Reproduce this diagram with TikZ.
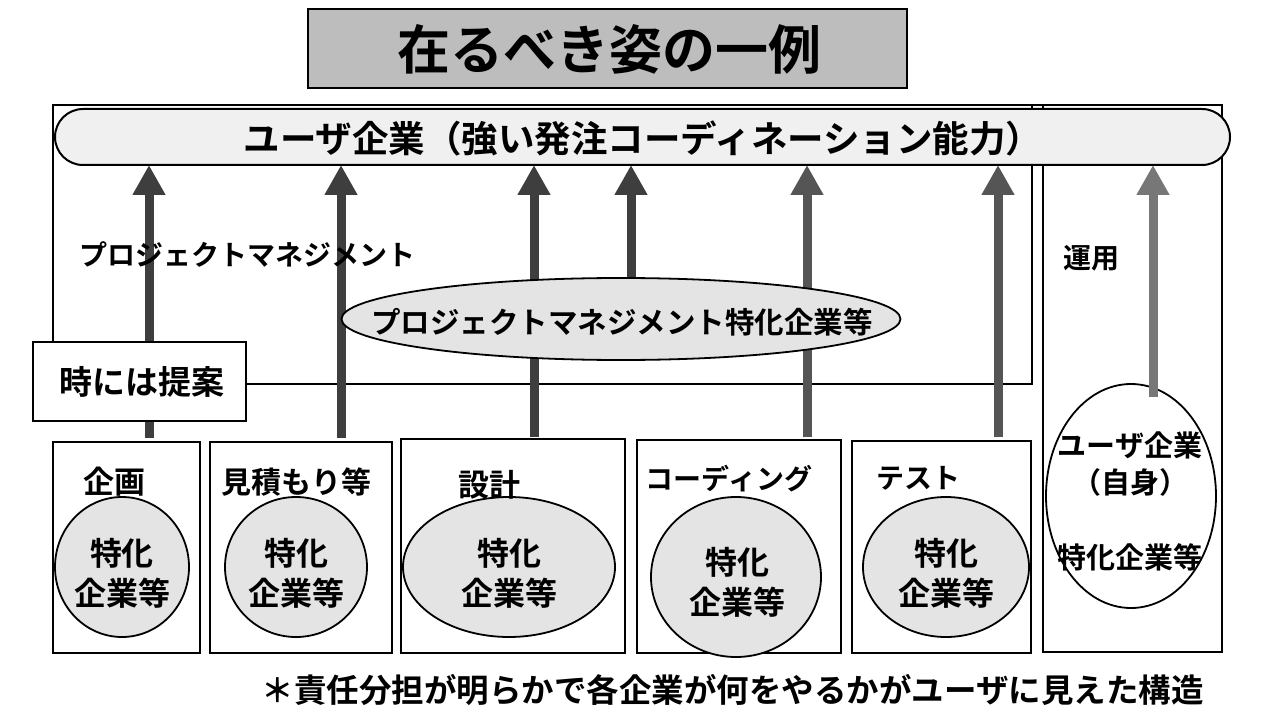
\documentclass[tikz,border=0pt]{standalone}
\usepackage{fontspec}
\setmainfont{Noto Sans CJK JP Bold}
\usetikzlibrary{arrows.meta,shapes.geometric}
\definecolor{titlegray}{HTML}{BDBDBD}
\definecolor{bargray}{HTML}{F0F0F0}
\definecolor{ellgray}{HTML}{E4E4E4}
\definecolor{arrdark}{HTML}{3E3E3E}
\definecolor{arrmid}{HTML}{555555}
\definecolor{arrlight}{HTML}{777777}
\newcommand{\fs}[1]{\fontsize{#1}{#1}\selectfont}
\begin{document}
\begin{tikzpicture}[x=1pt,y=-1pt,
  frame/.style={draw, line width=2pt, inner sep=0pt, outer sep=0pt, anchor=north west},
  stagebox/.style={frame, fill=white},
  oval/.style={ellipse, draw, line width=1.8pt, inner sep=0pt, outer sep=0pt},
  goval/.style={oval, fill=ellgray},
  upar/.style={line width=9pt, -{Triangle[length=30pt,width=31pt]}},
  txt/.style={inner sep=0pt, align=center},
]
\useasboundingbox[fill=white] (0,0) rectangle (1280,722);

% title
\node[frame, line width=2.5pt, fill=titlegray, minimum width=599pt, minimum height=79pt] (title) at (308,9) {};
\node[txt, font=\fs{53}] (titletxt) at (609,49) {在るべき姿の一例};

% frames
\node[frame, minimum width=979pt, minimum height=279pt] (pmarea) at (53,105) {};
\node[frame, minimum width=179pt, minimum height=547pt] (opsbox) at (1043,105) {};
\draw[line width=2pt] (pmarea.north east) -- (opsbox.north west);

% top bar
\node[frame, fill=bargray, rounded corners=28pt, minimum width=1175pt, minimum height=56pt] (bar) at (55,109) {};
\node[txt, font=\fs{36.5}] (bartxt) at (643,138) {ユーザ企業（強い発注コーディネーション能力）};

% stage boxes
\node[stagebox, minimum width=147pt, minimum height=211pt] (b1) at (53,442) {};
\node[stagebox, minimum width=182pt, minimum height=211pt] (b2) at (210,442) {};
\node[stagebox, minimum width=224pt, minimum height=214pt] (b3) at (401,439) {};
\node[stagebox, minimum width=204pt, minimum height=213pt] (b4) at (637,440) {};
\node[stagebox, minimum width=179pt, minimum height=212pt] (b5) at (852,441) {};

% arrow x positions
\coordinate (a1) at (149,0);
\coordinate (a2) at (341,0);
\coordinate (a3) at (534,0);
\coordinate (a4) at (631,0);
\coordinate (a5) at (807,0);
\coordinate (a6) at (998,0);
\coordinate (a7) at (1153,0);

% user-own ellipse (no fill)
\node[oval, minimum width=170pt, minimum height=224pt] (re) at (1131,496) {};
\coordinate (a7s) at ([yshift=-13pt]re.north);

% PM ellipse position (for arrow 4)
\coordinate (pmc) at (621,319);

% arrows
\draw[upar, arrdark] ([yshift=4pt]b1.north -| a1) -- (bar.south -| a1);
\draw[upar, arrdark] ([yshift=4pt]b2.north -| a2) -- (bar.south -| a2);
\draw[upar, arrdark] ([yshift=2pt]b3.north -| a3) -- (bar.south -| a3);
\draw[upar, arrdark] (pmc -| a4) -- (bar.south -| a4);
\draw[upar, arrmid] ([yshift=3pt]b4.north -| a5) -- (bar.south -| a5);
\draw[upar, arrmid] ([yshift=4pt]b5.north -| a6) -- (bar.south -| a6);
\draw[upar, arrlight] (a7s -| a7) -- (bar.south -| a7);

% PM ellipse
\node[goval, minimum width=559pt, minimum height=82pt] (pm) at (pmc) {};
\node[txt, font=\fs{29.5}] (pmtxt) at (622,322) {プロジェクトマネジメント特化企業等};

% left labels
\node[txt, font=\fs{28}, anchor=west] (pmlabel) at (79,254) {プロジェクトマネジメント};
\node[stagebox, minimum width=213pt, minimum height=79pt] (teian) at (33,342) {};
\node[txt, font=\fs{33}] (teiantxt) at ([xshift=2pt]teian.center) {時には提案};
\node[txt, font=\fs{28}] (unyo) at (1091,258) {運用};

% ellipses in stage boxes
\node[goval, minimum width=134pt, minimum height=140pt] (e1) at (122,567) {};
\node[goval, minimum width=142pt, minimum height=140pt] (e2) at (296,567) {};
\node[goval, minimum width=212pt, minimum height=140pt] (e3) at (509,567) {};
\node[goval, minimum width=170pt, minimum height=160pt] (e4) at (736,577) {};
\node[goval, minimum width=166pt, minimum height=140pt] (e5) at (946,567) {};

% stage labels
\node[txt, font=\fs{31}] (l1) at (114,482) {企画};
\node[txt, font=\fs{30}] (l2) at (296,482) {見積もり等};
\node[txt, font=\fs{31}] (l3) at (489,485) {設計};
\node[txt, font=\fs{28}] (l4) at (729,479) {コーディング};
\node[txt, font=\fs{28}] (l5) at (918,478) {テスト};

% ellipse texts
\tikzset{etxt/.style={txt, font=\fontsize{32}{40}\selectfont}}
\node[etxt] (t1) at (122,573) {特化\\企業等};
\node[etxt] (t2) at (296,573) {特化\\企業等};
\node[etxt] (t3) at (509,573) {特化\\企業等};
\node[etxt] (t4) at (737,582) {特化\\企業等};
\node[etxt] (t5) at (946,573) {特化\\企業等};

\node[txt, font=\fs{29}] (r1) at (1130,445) {ユーザ企業};
\node[txt, font=\fs{29}] (r2) at (1130,482) {（自身）};
\node[txt, font=\fs{29}] (r3) at (1130,557) {特化企業等};

% note
\node[txt, font=\fs{32.5}, anchor=east] (note) at (1204,690) {＊責任分担が明らかで各企業が何をやるかがユーザに見えた構造};
\end{tikzpicture}
\end{document}
